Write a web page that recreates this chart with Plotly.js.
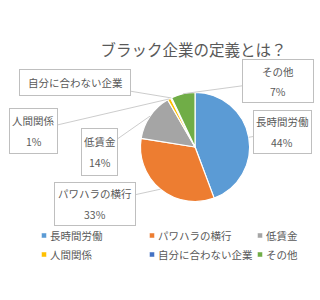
<!DOCTYPE html>
<html>
<head>
<meta charset="utf-8">
<script src="https://cdn.plot.ly/plotly-3.0.1.min.js"></script>
<style>html,body{margin:0;padding:0;background:#fff;}#chart{width:320px;height:300px;}</style>
</head>
<body>
<div id="chart"></div>
<script>
// ---- data ----
const categories = ['長時間労働', 'パワハラの横行', '低賃金', '人間関係', '自分に合わない企業', 'その他'];
const values = [44, 33, 14, 1, 0.3, 7];
const pctLabels = ['44%', '33%', '14%', '1%', '', '7%'];
const colors = ['#5B9BD5', '#ED7D31', '#A5A5A5', '#FFC000', '#4472C4', '#70AD47'];
const titleText = 'ブラック企業の定義とは？';

// ---- layout helpers (label box placement, pixels) ----
const W = 320, H = 300;
const pieDomain = {x: [0.439, 0.780], y: [0.328, 0.692]};
const boxes = [
  {cx: 282, cy: 131.5, w: 57, h: 42},   // 長時間労働
  {cx: 95, cy: 203.5, w: 80, h: 42},    // パワハラの横行
  {cx: 99.5, cy: 151.5, w: 35, h: 46},  // 低賃金
  {cx: 33.5, cy: 130.5, w: 47, h: 44},  // 人間関係
  {cx: 75, cy: 82, w: 110, h: 25},      // 自分に合わない企業
  {cx: 278, cy: 81, w: 70, h: 42}       // その他
];
const font = 'Noto Sans CJK JP, Noto Sans, sans-serif';
const txtColor = '#595959';

const pcx = (pieDomain.x[0] + pieDomain.x[1]) / 2 * W;
const pcy = (1 - (pieDomain.y[0] + pieDomain.y[1]) / 2) * H;
const pr = Math.min((pieDomain.x[1] - pieDomain.x[0]) * W, (pieDomain.y[1] - pieDomain.y[0]) * H) / 2;
const total = values.reduce((a, b) => a + b, 0);

const annotations = [];
let cum = 0;
values.forEach((v, i) => {
  const mid = (cum + v / 2) / total;
  cum += v;
  const ang = mid * 2 * Math.PI;
  const tx = pcx + pr * Math.sin(ang);
  const ty = pcy - pr * Math.cos(ang);
  const b = boxes[i];
  annotations.push({
    xref: 'paper', yref: 'paper', x: tx / W, y: 1 - ty / H,
    ax: b.cx - tx, ay: b.cy - ty, axref: 'pixel', ayref: 'pixel',
    text: ' ', width: b.w, height: b.h, borderpad: 0,
    bordercolor: '#bfbfbf', borderwidth: 1, bgcolor: 'rgba(255,255,255,0)',
    showarrow: true, arrowhead: 0, arrowwidth: 0.8, arrowcolor: '#bfbfbf', standoff: 0
  });
  const lines = pctLabels[i] ? [categories[i], pctLabels[i]] : [categories[i]];
  const offs = lines.length === 2 ? [-10, 10.5] : [0];
  lines.forEach((t, k) => {
    annotations.push({
      xref: 'paper', yref: 'paper', x: b.cx / W, y: 1 - (b.cy + offs[k]) / H,
      xanchor: 'center', yanchor: 'middle', text: t, showarrow: false,
      font: {family: font, size: 10.5, color: txtColor}
    });
  });
});

const data = [{
  type: 'pie',
  labels: categories,
  values: values,
  sort: false,
  direction: 'clockwise',
  rotation: 0,
  textinfo: 'none',
  hoverinfo: 'label+percent',
  marker: {colors: colors, line: {color: '#ffffff', width: 1.2}},
  domain: pieDomain
}];

const layout = {
  width: W, height: H,
  margin: {l: 0, r: 0, t: 0, b: 0},
  paper_bgcolor: '#ffffff',
  font: {family: font, color: txtColor},
  title: {text: titleText, x: 0.605, xanchor: 'center', xref: 'paper', y: 1 - 51 / H, yref: 'container', yanchor: 'middle',
          font: {family: font, size: 15.5, color: txtColor}},
  showlegend: true,
  legend: {orientation: 'h', x: 0, xanchor: 'left', y: 1 - 221 / H, yanchor: 'top',
           entrywidth: 63, entrywidthmode: 'pixels', traceorder: 'normal',
           font: {family: font, size: 10.5, color: txtColor}},
  annotations: annotations
};

Plotly.newPlot('chart', data, layout, {staticPlot: true}).then(gd => {
  gd.querySelectorAll('.legendpoints path').forEach(p => p.setAttribute('transform', 'translate(34,0) scale(0.42)'));
  const lg = gd.querySelector('g.legend');
  if (lg) {
    const m = /translate\(([-\d.]+)[ ,]+([-\d.]+)\)/.exec(lg.getAttribute('transform') || '');
    if (m) lg.setAttribute('transform', 'translate(' + (parseFloat(m[1]) + 10) + ',' + m[2] + ')');
  }
});
</script>
</body>
</html>
